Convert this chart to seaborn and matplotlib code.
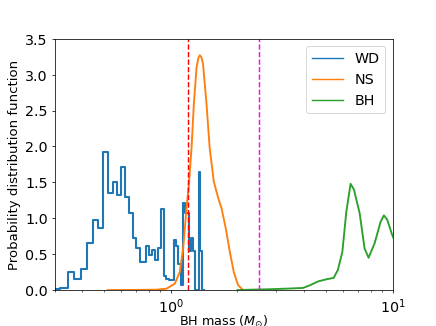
import numpy as np
import pandas as pd
import matplotlib
matplotlib.use("Agg")
import matplotlib.pyplot as plt
import seaborn as sns
from matplotlib.lines import Line2D

# --- WD: istogramma a passi (bin lineari di larghezza costante) ---
wd_edges = np.linspace(0.2925, 1.4145, 45)
wd_heights = [
    0.01, 0.03, 0.25, 0.16, 0.30, 0.65, 0.98, 0.86, 1.92, 1.35,
    1.51, 1.32, 1.71, 1.30, 1.08, 0.73, 0.58, 0.39, 0.39, 0.62,
    0.49, 0.56, 0.42, 0.58, 1.13, 0.20, 0.15, 0.14, 0.14, 0.70,
    0.62, 0.37, 0.07, 1.21, 1.07, 1.07, 0.54, 0.72, 0.54, 0.0,
    0.0, 1.65, 0.54, 0.0,
]

# --- NS: curva di densita' ---
ns_mass = [0.52, 0.86, 0.96, 1.045, 1.10, 1.139, 1.18, 1.212, 1.243, 1.273,
           1.309, 1.333, 1.355, 1.378, 1.40, 1.452, 1.50, 1.566, 1.64, 1.696,
           1.773, 1.849, 1.927, 2.014, 2.12]
ns_pdf = [0.0, 0.005, 0.02, 0.09, 0.25, 0.58, 1.14, 1.51, 1.98, 2.59,
          3.10, 3.23, 3.27, 3.24, 3.15, 2.59, 1.98, 1.51, 1.28, 1.14,
          0.86, 0.53, 0.25, 0.07, 0.0]

# --- BH: curva di densita' ---
bh_mass = [2.0, 2.27, 2.8, 3.32, 3.95, 4.23, 4.61, 5.03, 5.43, 5.67,
           5.94, 6.19, 6.47, 6.70, 7.11, 7.48, 7.80, 8.30, 8.83, 9.14,
           9.46, 9.96, 10.5]
bh_pdf = [0.0, 0.005, 0.012, 0.02, 0.03, 0.065, 0.12, 0.15, 0.17, 0.28,
          0.53, 1.09, 1.48, 1.40, 1.07, 0.58, 0.45, 0.65, 0.95, 1.04,
          0.98, 0.77, 0.60]

ns_max_line = 1.2
bh_min_line = 2.5

plt.rcParams["font.size"] = 15

fig, ax = plt.subplots(figsize=(6.4, 4.79), dpi=68.15)

wd_df = pd.DataFrame({
    "mass": (wd_edges[:-1] + wd_edges[1:]) / 2,
    "pdf": wd_heights,
})
sns.histplot(data=wd_df, x="mass", weights="pdf", bins=list(wd_edges),
             element="step", fill=False, color="C0", lw=2.2, ax=ax)
ax.set_xscale("log")
sns.lineplot(x=ns_mass, y=ns_pdf, color="C1", lw=2, ax=ax)
sns.lineplot(x=bh_mass, y=bh_pdf, color="C2", lw=2, ax=ax)

ax.axvline(ns_max_line, color="red", ls="--", lw=1.5)
ax.axvline(bh_min_line, color="magenta", ls="--", lw=1.5)

ax.set_xlim(0.3, 10)
ax.set_ylim(0, 3.5)
ax.set_xlabel(r"BH mass ($M_{\odot}$)", fontsize=13.5, labelpad=-2)
ax.set_ylabel("Probability distribution function", fontsize=14)

handles = [Line2D([], [], color="C0", lw=1.5),
           Line2D([], [], color="C1", lw=1.5),
           Line2D([], [], color="C2", lw=1.5)]
ax.legend(handles, ["WD", "NS", "BH"], loc="upper right", handlelength=2.2)

fig.savefig("out.png", dpi=fig.dpi)
plt.close(fig)
